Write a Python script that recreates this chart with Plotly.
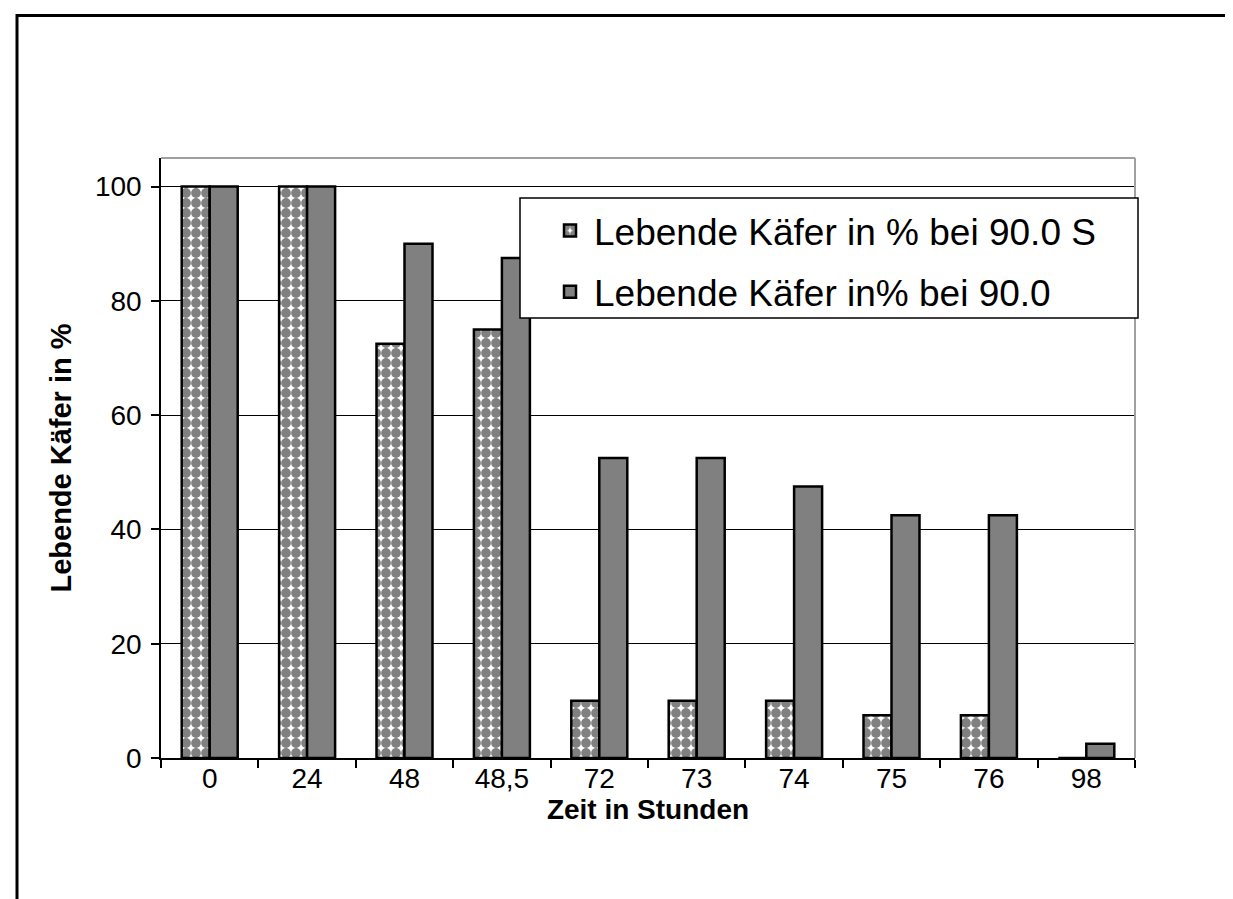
import plotly.graph_objects as go

categories = ["0", "24", "48", "48,5", "72", "73", "74", "75", "76", "98"]
series_s = [100, 100, 72.5, 75, 10, 10, 10, 7.5, 7.5, 0]
series_n = [100, 100, 90, 87.5, 52.5, 52.5, 47.5, 42.5, 42.5, 2.5]
name_s = "Lebende Käfer in % bei 90.0 S"
name_n = "Lebende Käfer in% bei 90.0"
y_ticks = [0, 20, 40, 60, 80, 100]

FONT = "Liberation Sans, Arial, sans-serif"

fig = go.Figure()
fig.add_trace(go.Bar(
    x=categories, y=series_s, name=name_s, legendgroup="a",
    marker=dict(color="white", line=dict(color="black", width=2.5),
                pattern=dict(shape=".", fgcolor="#808080", bgcolor="white",
                             size=10, solidity=0.75, fillmode="replace")),
))
fig.add_trace(go.Bar(
    x=categories, y=series_n, name=name_n, legendgroup="b",
    marker=dict(color="#808080", line=dict(color="black", width=2.5)),
))

L, R, T, B = 153, 106, 150, 149
W, H = 1233, 899
pw, ph = W - L - R, H - T - B

def px2x(px):
    return (px - L) / pw

def py2y(py):
    return (H - B - py) / ph

fig.update_layout(
    width=W, height=H,
    margin=dict(l=L, r=R, t=T, b=B, autoexpand=False),
    paper_bgcolor="white", plot_bgcolor="white",
    font=dict(family=FONT, color="black", size=28),
    barmode="group", bargap=0.425, bargroupgap=0,
    showlegend=True,
    legend=dict(x=px2x(538), y=py2y(192), xanchor="left", yanchor="top",
                bgcolor="rgba(0,0,0,0)", borderwidth=0,
                font=dict(size=37, family=FONT), traceorder="grouped",
                tracegroupgap=10, itemwidth=38),
    xaxis=dict(type="category", showline=True, linecolor="black", linewidth=1.5,
               ticks="outside", tickson="boundaries", ticklen=8, tickcolor="black",
               tickwidth=1.5, showgrid=False, ticklabelstandoff=-5,
               tickfont=dict(size=28),
               title=dict(text="<b>Zeit in Stunden</b>", font=dict(size=28), standoff=2)),
    yaxis=dict(range=[0, 105], tickvals=y_ticks, showline=True, linecolor="black",
               linewidth=1.5, ticks="outside", ticklen=8, tickcolor="black", tickwidth=1.5,
               ticklabelstandoff=4,
               showgrid=True, gridcolor="black", gridwidth=1, zeroline=False,
               tickfont=dict(size=28),
               title=dict(text="<b>Lebende Käfer in %</b>", font=dict(size=29), standoff=15)),
    shapes=[
        dict(type="line", xref="paper", yref="paper", x0=0, x1=1, y0=1, y1=1,
             line=dict(color="#a0a0a0", width=2)),
        dict(type="line", xref="paper", yref="paper", x0=1, x1=1, y0=0, y1=1,
             line=dict(color="#a0a0a0", width=2)),
        dict(type="rect", xref="paper", yref="paper", layer="above",
             x0=px2x(512), x1=px2x(1130), y0=py2y(310), y1=py2y(190),
             fillcolor="white", line=dict(color="black", width=1.5)),
        dict(type="line", xref="paper", yref="paper", x0=px2x(9), x1=px2x(1240),
             y0=py2y(7.5), y1=py2y(7.5), line=dict(color="black", width=3)),
        dict(type="line", xref="paper", yref="paper", x0=px2x(9), x1=px2x(9),
             y0=py2y(6), y1=py2y(905), line=dict(color="black", width=3)),
    ],
)

fig.write_html("out.html")
